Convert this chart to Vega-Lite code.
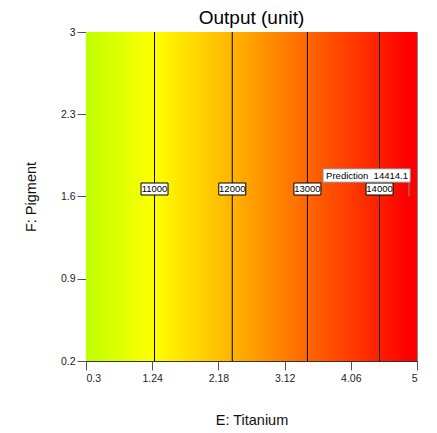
{
  "$schema": "https://vega.github.io/schema/vega-lite/v6.json",
  "width": 331,
  "height": 329,
  "autosize": "none",
  "padding": {"left": 86, "top": 32, "right": 20, "bottom": 72},
  "config": {
    "font": "Liberation Sans",
    "view": {"stroke": "#888888", "strokeWidth": 1},
    "axis": {
      "grid": false,
      "domainColor": "#333333",
      "tickColor": "#555555",
      "tickSize": 9,
      "labelFont": "Liberation Sans",
      "labelFontSize": 10.5,
      "labelColor": "#222222",
      "titleFont": "Liberation Sans",
      "titleFontSize": 14.5,
      "titleFontWeight": "normal",
      "titleColor": "#111111"
    }
  },
  "title": {"text": "Output (unit)", "fontSize": 19, "fontWeight": "normal", "font": "Liberation Sans", "color": "#000000", "offset": -1},
  "datasets": {
    "region": [{"x0": 0.3, "x1": 5, "y0": 0.2, "y1": 3}],
    "contours": [
      {"E": 1.273, "F": 1.6, "label": "11000"},
      {"E": 2.377, "F": 1.6, "label": "12000"},
      {"E": 3.444, "F": 1.6, "label": "13000"},
      {"E": 4.468, "F": 1.6, "label": "14000"}
    ],
    "prediction": [{"E": 4.886, "F": 1.6, "label": "Prediction\u00a0\u00a014414.1"}]
  },
  "layer": [
    {
      "data": {"name": "region"},
      "mark": {
        "type": "rect",
        "fill": {
          "gradient": "linear", "x1": 0, "y1": 0, "x2": 1, "y2": 0,
          "stops": [
            {"offset": 0, "color": "#bfff00"},
            {"offset": 0.207, "color": "#ffff00"},
            {"offset": 0.442, "color": "#ffb300"},
            {"offset": 0.669, "color": "#ff6600"},
            {"offset": 0.887, "color": "#ff1e00"},
            {"offset": 0.97, "color": "#ff0000"},
            {"offset": 1, "color": "#ff0000"}
          ]
        }
      },
      "encoding": {
        "x": {"field": "x0", "type": "quantitative", "scale": {"domain": [0.3, 5], "nice": false, "zero": false},
              "axis": {"title": "E: Titanium", "values": [0.3, 1.24, 2.18, 3.12, 4.06, 5], "labelPadding": 3, "titlePadding": 30, "format": ".2~f"}},
        "x2": {"field": "x1"},
        "y": {"field": "y0", "type": "quantitative", "scale": {"domain": [0.2, 3], "nice": false, "zero": false},
              "axis": {"title": "F: Pigment", "values": [0.2, 0.9, 1.6, 2.3, 3], "labelPadding": 2, "titlePadding": 22, "format": ".1~f"}},
        "y2": {"field": "y1"}
      }
    },
    {
      "data": {"name": "contours"},
      "mark": {"type": "rule", "color": "#000000", "strokeWidth": 1},
      "encoding": {"x": {"field": "E", "type": "quantitative"}}
    },
    {
      "data": {"name": "contours"},
      "mark": {"type": "point", "shape": "M-1,-1H1V-0.11H-1Z", "size": 729, "filled": true, "fill": "#ffffff", "stroke": "#000000", "strokeWidth": 1, "opacity": 1},
      "encoding": {"x": {"field": "E", "type": "quantitative"}, "y": {"field": "F", "type": "quantitative"}}
    },
    {
      "data": {"name": "contours"},
      "mark": {"type": "text", "fontSize": 9.5, "color": "#000000", "align": "center", "baseline": "middle", "dy": -7.5},
      "encoding": {"x": {"field": "E", "type": "quantitative"}, "y": {"field": "F", "type": "quantitative"}, "text": {"field": "label"}}
    },
    {
      "data": {"name": "prediction"},
      "mark": {"type": "point", "shape": "M-8.6,-2.77H0.13V-1.43H-8.6Z M0,-1.43V0", "size": 400, "filled": true, "fill": "#ffffff", "stroke": "#888888", "strokeWidth": 1, "opacity": 1},
      "encoding": {"x": {"field": "E", "type": "quantitative"}, "y": {"field": "F", "type": "quantitative"}}
    },
    {
      "data": {"name": "prediction"},
      "mark": {"type": "text", "fontSize": 9.5, "color": "#000000", "align": "right", "baseline": "middle", "dx": -1, "dy": -21},
      "encoding": {"x": {"field": "E", "type": "quantitative"}, "y": {"field": "F", "type": "quantitative"}, "text": {"field": "label"}}
    }
  ]
}
